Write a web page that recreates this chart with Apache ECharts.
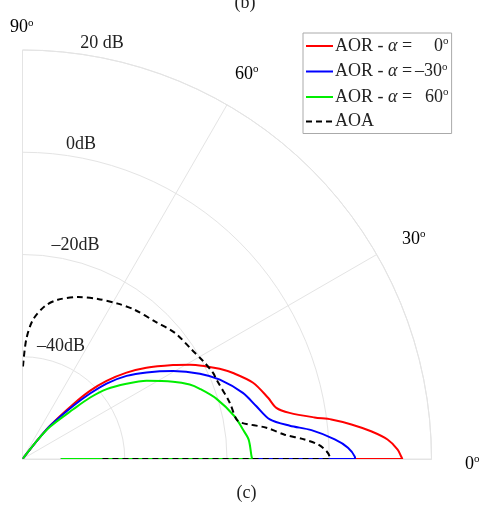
<!DOCTYPE html>
<html>
<head>
<meta charset="utf-8">
<script src="https://cdn.jsdelivr.net/npm/echarts@6/dist/echarts.min.js"></script>
<style>html,body{margin:0;padding:0;background:#fff}#c{width:490px;height:508px}</style>
</head>
<body>
<div id="c"></div>
<script>
// data points are [level in dB, angle in degrees]
const seriesNames = ['AOR - α = 0°', 'AOR - α = –30°', 'AOR - α = 60°', 'AOA'];
const alphaLabels = ['0', '–30', '60'];
const angleTicks = [0, 30, 60, 90];
const radiusTicks = [-60, -40, -20, 0, 20];
const radiusLabels = ['–40dB', '–20dB', '0dB', '20 dB'];

const aor0 = [[-60,52],[-55.1,51.5],[-51.6,50.4],[-45.4,47.2],[-41.25,45.3],[-37.55,42.9],[-33.55,39.7],[-29.9,36.4],[-25.3,32.0],[-22.4,29.4],[-19.7,26.7],[-17.6,24.6],[-15.5,22.2],[-12.5,18.3],[-10.5,14.0],[-9.35,11.4],[-7.0,9.8],[-2.3,8.1],[0.9,7.3],[4.7,6.0],[8.4,4.55],[11.5,3.05],[13.4,1.45],[14.1,0.33],[14.3,0],[-52.5,0]];
const aorM30 = [[-60,52],[-55.1,51.5],[-51.6,50.3],[-45.6,46.3],[-41.6,44.1],[-37.9,41.9],[-33.95,38.6],[-30.4,34.9],[-25.9,30.3],[-21.5,25.7],[-18.4,21.9],[-15.0,16.7],[-13.1,12.7],[-11.0,9.1],[-7.3,7.1],[-3.2,5.7],[1.2,3.6],[3.7,2.0],[5.0,0.4],[5.05,0],[-52.5,0]];
const aor60 = [[-60,52],[-55.1,51.5],[-51.7,49.5],[-46.1,44.4],[-42.2,42.3],[-38.6,39.7],[-34.9,35.9],[-31.3,32.2],[-26.9,27.2],[-24.2,24.0],[-22.7,21.6],[-20.3,17.3],[-17.7,11.4],[-16.5,7.6],[-15.6,4.9],[-15.2,0.7],[-15.07,0],[-52.5,0]];
const aoa = [[-41.9,89.7],[-36.6,88.2],[-32.7,85.7],[-29.8,81.7],[-28.1,77.5],[-26.5,71.1],[-25.4,64.8],[-24.35,58.5],[-23.5,53.1],[-22.65,46.1],[-21.3,39.6],[-20.6,32.9],[-19.8,28.4],[-19.1,24.3],[-19.0,22.3],[-18.0,15.2],[-17.45,10.5],[-16.6,9.4],[-11.9,7.3],[-8.5,5.3],[-4.7,3.95],[-2.1,2.8],[-0.55,1.5],[0.07,0.4],[0.07,0],[-44.5,0]];

const colors = ['#ff0000', '#0000ff', '#00ee00', '#000000'];
const datasets = [aor0, aorM30, aor60, aoa];

const chart = echarts.init(document.getElementById('c'), null, {renderer: 'canvas'});
const serif = '"Liberation Serif", "DejaVu Serif", serif';
const gridColor = '#e4e4e4';
const textColor = '#222';
const CX = 22.5, CY = 459, R = 409;

const series = datasets.map((d, i) => ({
  name: seriesNames[i],
  type: 'line',
  coordinateSystem: 'polar',
  data: d,
  symbol: 'none',
  smooth: 0.3,
  clip: false,
  lineStyle: {color: colors[i], width: 2, type: i === 3 ? [6, 4] : 'solid'},
  itemStyle: {color: colors[i]},
  z: 10 + i
}));

const supRich = {
  n: {fontFamily: serif, fontSize: 18, color: textColor},
  s: {fontFamily: serif, fontSize: 11, color: textColor, padding: [0, 0, 9, 0]}
};

// dB ring labels placed just above each ring
function ringPx(db) { return (db - radiusTicks[0]) / (radiusTicks[radiusTicks.length - 1] - radiusTicks[0]) * R; }
const labelX = [61, 75.5, 81, 102];
const labelLift = [10, 9, 8, 7];
const graphics = radiusLabels.map((t, i) => ({
  type: 'text',
  x: labelX[i], y: CY - ringPx(radiusTicks[i + 1]) - labelLift[i],
  style: {text: t, font: '18px ' + serif, fill: textColor, align: 'center', verticalAlign: 'middle'}
}));
// angle labels
const angleLabelPos = [[465, 464], [402, 239], [235, 74], [10, 27.5]];
angleTicks.forEach((a, i) => {
  graphics.push({
    type: 'text', x: angleLabelPos[i][0], y: angleLabelPos[i][1],
    style: {text: '{n|' + a + '}{s|o}', rich: supRich, align: 'left', verticalAlign: 'middle'}
  });
});
graphics.push({type: 'text', x: 245, y: 3, style: {text: '(b)', font: '18px ' + serif, fill: textColor, align: 'center', verticalAlign: 'middle'}});
graphics.push({type: 'text', x: 246.5, y: 493, style: {text: '(c)', font: '18px ' + serif, fill: textColor, align: 'center', verticalAlign: 'middle'}});

const legendRich = {
  t: {fontFamily: serif, fontSize: 18, color: textColor},
  a: {fontFamily: serif, fontSize: 18, fontStyle: 'italic', color: textColor},
  v0: {fontFamily: serif, fontSize: 18, color: textColor, padding: [0, 0, 0, 22]},
  v1: {fontFamily: serif, fontSize: 18, color: textColor, padding: [0, 0, 0, 3]},
  v2: {fontFamily: serif, fontSize: 18, color: textColor, padding: [0, 0, 0, 13]},
  s: {fontFamily: serif, fontSize: 11, color: textColor, padding: [0, 0, 9, 0]}
};

chart.setOption({
  animation: false,
  backgroundColor: '#fff',
  polar: {center: [CX, CY], radius: R},
  angleAxis: {
    type: 'value', min: 0, max: 90, interval: 30,
    startAngle: 0, endAngle: 90, clockwise: false,
    axisLine: {show: true, lineStyle: {color: gridColor, width: 1}},
    axisTick: {show: false},
    splitLine: {show: true, lineStyle: {color: gridColor, width: 1}},
    axisLabel: {show: false}
  },
  radiusAxis: {
    type: 'value', min: -60, max: 20, interval: 20,
    axisLine: {show: true, lineStyle: {color: gridColor}},
    axisTick: {show: false},
    axisLabel: {show: false},
    splitLine: {show: true, lineStyle: {color: gridColor, width: 1}}
  },
  legend: {
    orient: 'vertical', left: 303, top: 33,
    data: seriesNames,
    itemWidth: 27, itemHeight: 12, itemGap: 6.5,
    padding: [3, 3, 3, 2],
    borderColor: '#aaa', borderWidth: 1, backgroundColor: '#fff',
    itemStyle: {opacity: 0},
    textStyle: {fontFamily: serif, fontSize: 18, color: textColor, rich: legendRich, padding: [0, 0, 0, -3]},
    formatter: name => {
      const i = seriesNames.indexOf(name);
      if (i < 3) return '{t|AOR - }{a|α}{t| =}{v' + i + '|' + alphaLabels[i] + '}{s|o}';
      return '{t|AOA}';
    }
  },
  graphic: graphics,
  series: series
});
</script>
</body>
</html>
